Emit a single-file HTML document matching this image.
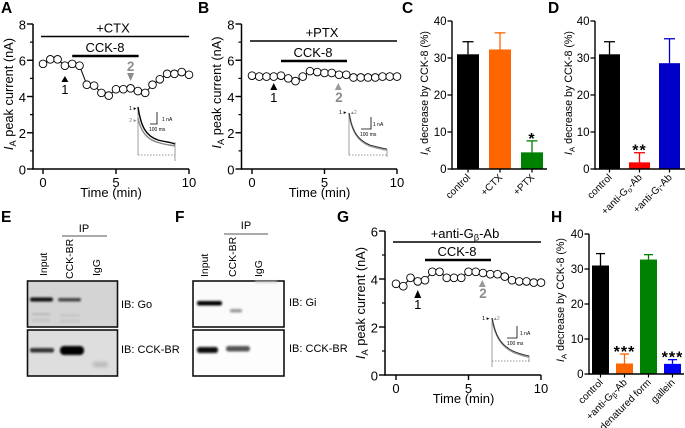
<!DOCTYPE html>
<html>
<head>
<meta charset="utf-8">
<style>
html,body{margin:0;padding:0;background:#fff;width:685px;height:428px;overflow:hidden}
svg{display:block;font-family:"Liberation Sans",sans-serif}
</style>
</head>
<body>
<svg id="fig" width="685" height="428" viewBox="0 0 685 428" xmlns="http://www.w3.org/2000/svg">
<defs>
<filter id="b1" x="-30%" y="-100%" width="160%" height="300%"><feGaussianBlur stdDeviation="1"/></filter>
<filter id="b2" x="-30%" y="-100%" width="160%" height="300%"><feGaussianBlur stdDeviation="1.8"/></filter>
</defs>
<g id="root" style="filter:blur(0.35px)"></g>
<g style="filter:blur(0.3px)">
<rect x="27.5" y="281" width="90" height="46" fill="#d4d4d4" stroke="#111" stroke-width="1.6"/>
<rect x="30" y="297.5" width="23" height="4" rx="2" fill="#111" filter="url(#b1)"/>
<rect x="58" y="298" width="23" height="3.5" rx="1.7" fill="#444" filter="url(#b1)"/>
<rect x="32" y="313" width="18" height="2.5" fill="#bbb" filter="url(#b1)"/>
<rect x="32" y="319" width="18" height="2.5" fill="#c2c2c2" filter="url(#b1)"/>
<rect x="60" y="314" width="20" height="2.5" fill="#c6c6c6" filter="url(#b1)"/>
<rect x="60" y="320" width="20" height="2.5" fill="#c4c4c4" filter="url(#b1)"/>
<rect x="27.5" y="330" width="90" height="46" fill="#dedede" stroke="#111" stroke-width="1.6"/>
<rect x="30" y="348" width="24" height="4.5" rx="2" fill="#333" filter="url(#b1)"/>
<rect x="60" y="346" width="24" height="9" rx="4" fill="#000" filter="url(#b1)"/>
<rect x="93" y="362" width="15" height="5" rx="2" fill="#b8b8b8" filter="url(#b2)"/>
<text x="84" y="232" font-size="11" text-anchor="middle">IP</text>
<line x1="62" y1="236" x2="107" y2="236" stroke="#555" stroke-width="1"/>
<text transform="translate(47,276) rotate(-90)" font-size="10.5">Input</text>
<text transform="translate(73,279) rotate(-90)" font-size="10.5">CCK-BR</text>
<text transform="translate(100,276) rotate(-90)" font-size="10.5">IgG</text>
<text x="121" y="308" font-size="11">IB: Go</text>
<text x="121" y="353" font-size="11">IB: CCK-BR</text>
</g>
<g style="filter:blur(0.3px)">
<rect x="193" y="281" width="91" height="46" fill="#fbfbfb" stroke="#111" stroke-width="1.6"/>
<rect x="197" y="301" width="25" height="4.5" rx="2" fill="#000" filter="url(#b1)"/>
<rect x="230" y="309" width="12" height="3.5" rx="1.5" fill="#999" filter="url(#b1)"/>
<rect x="255" y="281" width="22" height="2" fill="#ccc" filter="url(#b1)"/>
<rect x="193" y="330" width="91" height="46" fill="#fdfdfd" stroke="#111" stroke-width="1.6"/>
<rect x="197" y="347" width="21" height="6" rx="2.5" fill="#0a0a0a" filter="url(#b1)"/>
<rect x="226" y="346" width="24" height="5.5" rx="2.5" fill="#555" filter="url(#b1)"/>
<text x="246" y="229" font-size="11" text-anchor="middle">IP</text>
<line x1="224" y1="234" x2="268" y2="234" stroke="#555" stroke-width="1"/>
<text transform="translate(208,277) rotate(-90)" font-size="10.5">Input</text>
<text transform="translate(236,277) rotate(-90)" font-size="10.5">CCK-BR</text>
<text transform="translate(262,277) rotate(-90)" font-size="10.5">IgG</text>
<text x="289" y="306" font-size="11">IB: Gi</text>
<text x="289" y="352" font-size="11">IB: CCK-BR</text>
</g>
<g fill="none" style="filter:blur(0.25px)">
<path d="M138 155H175" stroke="#777" stroke-width=".7" stroke-dasharray="1.5 1.5"/>
<path d="M138 107V155M175 142V161" stroke="#888" stroke-width=".8"/>
<path d="M138 118C141 132 147 140 160 143C166 145 171 145 175 146" stroke="#888" stroke-width="1.4"/>
<path d="M138 107C141 127 146 136 158 140C165 142 170 142 175 144" stroke="#000" stroke-width="1.4"/>
<path d="M150 124H157V112" stroke="#000" stroke-width=".8"/>
<text x="162" y="121" font-size="5" fill="#000">1 nA</text>
<text x="149" y="131" font-size="5" fill="#000">100 ms</text>
<text x="129" y="110" font-size="5.5" fill="#000">1 ▸</text>
<text x="129" y="122" font-size="5.5" fill="#888">2 ▸</text>
</g>
<g fill="none" style="filter:blur(0.25px)">
<path d="M349 155H388" stroke="#777" stroke-width=".7" stroke-dasharray="1.5 1.5"/>
<path d="M349 113V155M387 149V157" stroke="#888" stroke-width=".8"/>
<path d="M349 113C352 132 358 141 370 146C377 148 382 149 387 150" stroke="#999" stroke-width="1.8"/>
<path d="M349 113C352 132 358 140 370 145C377 147 382 148 387 149" stroke="#222" stroke-width=".8"/>
<path d="M361 129H371V117" stroke="#000" stroke-width=".8"/>
<text x="373" y="126" font-size="5" fill="#000">1 nA</text>
<text x="360" y="136" font-size="5" fill="#000">100 ms</text>
<text x="339" y="114" font-size="5.5" fill="#000">1 ▸</text>
<text x="351" y="114" font-size="5.5" fill="#888">▴2</text>
</g>
<g fill="none" style="filter:blur(0.25px)">
<path d="M492 361H529" stroke="#777" stroke-width=".7" stroke-dasharray="1.5 1.5"/>
<path d="M492 318V367M529 355V362" stroke="#888" stroke-width=".8"/>
<path d="M492 318C495 336 501 346 513 352C520 355 525 356 529 357" stroke="#999" stroke-width="1.8"/>
<path d="M492 318C495 336 501 345 513 351C520 354 525 355 529 356" stroke="#222" stroke-width=".8"/>
<path d="M507 338H517V326" stroke="#000" stroke-width=".8"/>
<text x="520" y="335" font-size="5" fill="#000">1 nA</text>
<text x="507" y="345" font-size="5" fill="#000">100 ms</text>
<text x="482" y="320" font-size="5.5" fill="#000">1 ▸</text>
<text x="494" y="320" font-size="5.5" fill="#888">▴2</text>
</g>
</svg>
<script>
// ---- chart data ----
var timeTicks = [0, 5, 10];
var timePoints = [0,0.5,1,1.5,2,2.5,3,3.5,4,4.5,5,5.5,6,6.5,7,7.5,8,8.5,9,9.5,10];
var seriesA = [5.8,6.05,6.05,5.7,5.8,5.7,4.65,4.6,4.2,4.05,4.4,4.4,4.45,4.3,4.2,4.65,4.95,5.25,5.25,5.35,5.2];
var seriesB = [5.15,5.1,5.1,5.1,5.15,5.0,4.85,5.1,5.4,5.35,5.3,5.3,5.2,5.2,5.05,5.05,5.05,5.05,5.1,5.1,5.1];
var seriesG = [3.8,3.7,4.05,3.9,3.95,4.3,4.3,4.05,4.05,4.05,4.3,4.3,4.25,4.2,4.2,4.1,3.95,3.9,3.9,3.85,3.85];
var currentTicksAB = [0,2,4,6,8];
var currentMinorAB = [1,3,5,7];
var currentTicksG = [0,2,4,6];
var currentMinorG = [1,3,5];
var percentTicks = [0,10,20,30,40];
var categoriesC = ['control','+CTX','+PTX'];
var valuesC = [31,32.3,4.5];
var errorsC = [34.4,36.8,7.6];
var categoriesD = ['control','+anti-G|o|-Ab','+anti-G|i|-Ab'];
var valuesD = [31,1.8,28.6];
var errorsD = [34.4,4.4,35.2];
var categoriesH = ['control','+anti-G|β|-Ab','+denatured form','gallein'];
var valuesH = [31,3,32.7,2.9];
var errorsH = [34.4,5.7,34.1,4.1];

var root = document.getElementById('root');
var NS = 'http://www.w3.org/2000/svg';
function mk(tag, attrs, name, parent) {
  var el = document.createElementNS(NS, tag);
  for (var k in attrs) el.setAttribute(k, attrs[k]);
  
  
  (parent || root).appendChild(el);
  return el;
}
function txt(str, x, y, size, anchor, name, fill, weight, parent) {
  var t = mk('text', {x:x, y:y, 'font-size':size, 'text-anchor':anchor||'start', fill:fill||'#000', 'font-weight':weight||'normal'}, name, parent);
  t.textContent = str;
  return t;
}
function line(x1,y1,x2,y2,w,name,color,parent) {
  return mk('line',{x1:x1,y1:y1,x2:x2,y2:y2,stroke:color||'#000','stroke-width':w},name,parent);
}
function span(t, str, opts, name) {
  var s = document.createElementNS(NS,'tspan');
  s.textContent = str;
  for (var k in opts) s.setAttribute(k, opts[k]);
  
  
  t.appendChild(s);
}
function subText(t, label, size) {
  var parts = label.split('|');
  span(t,parts[0],{},'label-text');
  if (parts.length>1) {
    span(t,parts[1],{'font-size':size*0.72,dy:size*0.2},'label-subscript');
    span(t,parts[2],{dy:-size*0.2},'label-suffix');
  }
}
function yTitle(x, cy, size, rest, name, parent) {
  var t = mk('text',{transform:'translate('+x+','+cy+') rotate(-90)','font-size':size,'text-anchor':'middle'},name,parent);
  span(t,'I',{'font-style':'italic'},'y-title-i');
  span(t,'A',{'font-size':size*0.72,dy:size*0.22},'y-title-subscript');
  span(t,rest,{dy:-size*0.22},'y-title-rest');
}
function arrow(x, tipY, baseY, color, name, parent) {
  var d = 'M'+(x-3.5)+' '+baseY+'L'+x+' '+tipY+'L'+(x+3.5)+' '+baseY+'Z';
  mk('path',{d:d,fill:color},name,parent);
}

function timeCourse(c) {
  var g = mk('g',{},c.id+'-time-course');
  var sx = function(v){ return c.x0 + v*(c.x10-c.x0)/10; };
  var sy = function(v){ return c.y0 - v*(c.y0-c.yTop)/c.yMax; };
  line(c.ax,c.yTop,c.ax,c.y0+0.7,1.5,'y-axis-line','#000',g);
  line(c.ax,c.y0,c.x10,c.y0,1.5,'x-axis-line','#000',g);
  c.yTicks.forEach(function(v){
    line(c.ax-6,sy(v),c.ax,sy(v),1.4,'y-tick','#000',g);
    txt(String(v),c.ax-7,sy(v)+5.3,13,'end','y-tick-label','#000','normal',g);
  });
  (c.yMinor||[]).forEach(function(v){
    line(c.ax-3,sy(v),c.ax,sy(v),1.2,'y-minor-tick','#000',g);
  });
  timeTicks.forEach(function(v){
    line(sx(v),c.y0,sx(v),c.y0+5,1.4,'x-tick','#000',g);
    txt(String(v),sx(v),c.y0+18,13,'middle','x-tick-label','#000','normal',g);
  });
  txt('Time (min)',sx(5)-c.tShift,c.y0+28,13,'middle','x-axis-title','#000','normal',g);
  yTitle(c.titleX,c.titleCy,c.titleSize,' peak current (nA)','y-axis-title',g);
  // condition bars
  line(c.b1.x,c.b1.y,c.x10,c.b1.y,1.5,'treatment-bar','#000',g);
  var tl = mk('text',{x:c.b1.tx,y:c.b1.y-4,'font-size':13,'text-anchor':'middle'},'treatment-label',g);
  subText(tl,c.b1.t,13);
  line(sx(2),c.b2.y,sx(6.55),c.b2.y,2.6,'cck-8-bar','#000',g);
  txt('CCK-8',c.b2.tx,c.b2.y-4,13,'middle','cck-8-label','#000','normal',g);
  // series
  var pts = timePoints.map(function(t,i){ return sx(t)+','+sy(c.data[i]); }).join(' ');
  mk('polyline',{points:pts,fill:'none',stroke:'#000','stroke-width':1},'series-line',g);
  timePoints.forEach(function(t,i){
    mk('circle',{cx:sx(t),cy:sy(c.data[i]),r:3.85,fill:'#fff',stroke:'#000','stroke-width':0.9},'series-point',g);
  });
  // arrows
  arrow(sx(1.5),c.a1[0],c.a1[1],'#000','arrow-1',g);
  txt('1',sx(1.5),c.a1[2],13,'middle','arrow-1-label','#000','normal',g);
  if (c.a2[3]) {
    mk('path',{d:'M'+(sx(6)-3.5)+' '+c.a2[0]+'L'+sx(6)+' '+c.a2[1]+'L'+(sx(6)+3.5)+' '+c.a2[0]+'Z',fill:'#8c8c8c'},'arrow-2',g);
  } else {
    arrow(sx(5.95),c.a2[0],c.a2[1],'#999','arrow-2',g);
  }
  txt('2',sx(6),c.a2[2],13.5,'middle','arrow-2-label','#8c8c8c','bold',g);
}

timeCourse({id:'panel-a',ax:33,x0:43,x10:189,y0:169,yTop:24,yMax:8,yTicks:currentTicksAB,yMinor:currentMinorAB,data:seriesA,
  titleX:13,titleCy:94,titleSize:12.8,tShift:5,
  b1:{x:41,y:36.5,t:'+CTX',tx:113},b2:{y:56,tx:105},a1:[76,82,94],a2:[73,81,71,true]});
timeCourse({id:'panel-b',ax:241.5,x0:252,x10:397,y0:169,yTop:24,yMax:8,yTicks:currentTicksAB,yMinor:currentMinorAB,data:seriesB,
  titleX:221,titleCy:92.5,titleSize:12.8,tShift:5,
  b1:{x:250,y:41,t:'+PTX',tx:322},b2:{y:61,tx:313},a1:[83,90,102],a2:[83,90,102,false]});
timeCourse({id:'panel-g',ax:385,x0:396,x10:541,y0:375,yTop:231,yMax:6,yTicks:currentTicksG,yMinor:currentMinorG,data:seriesG,
  titleX:365,titleCy:303,titleSize:12.8,tShift:5,
  b1:{x:393,y:242,t:'+anti-G|β|-Ab',tx:465},b2:{y:260,tx:457},a1:[290,298,309],a2:[280,287,298,false]});

function barChart(c) {
  var g = mk('g',{},c.id+'-bar-chart');
  var sy = function(v){ return c.y0 - v*(c.y0-c.yTop)/40; };
  var sx = function(i){ return c.first + i*c.step; };
  c.values.forEach(function(v,i){
    var col = c.colors[i];
    line(sx(i),sy(c.errors[i]),sx(i),sy(v),1.3,'error-bar',col,g);
    line(sx(i)-c.cap,sy(c.errors[i]),sx(i)+c.cap,sy(c.errors[i]),1.3,'error-cap',col,g);
    mk('rect',{x:sx(i)-c.w/2,y:sy(v),width:c.w,height:c.y0-sy(v),fill:col},'bar-'+i,g);
    line(sx(i),c.y0,sx(i),c.y0+3.5,1.2,'x-tick','#000',g);
    var t = mk('text',{transform:'translate('+(sx(i)+3)+','+(c.y0+9)+') rotate(-45)','font-size':10,'text-anchor':'end'},'category-label',g);
    subText(t,c.cats[i],10);
  });
  line(c.ax,c.yTop,c.ax,c.y0+0.7,1.4,'y-axis-line','#000',g);
  line(c.ax,c.y0,c.axEnd,c.y0,1.4,'x-axis-line','#000',g);
  percentTicks.forEach(function(v){
    line(c.ax-4.5,sy(v),c.ax,sy(v),1.3,'y-tick','#000',g);
    txt(String(v),c.ax-5.5,sy(v)+4.2,11.5,'end','y-tick-label','#000','normal',g);
  });
  yTitle(c.titleX,c.titleCy,10.7,' decrease by CCK-8 (%)','y-axis-title',g);
  c.sig.forEach(function(s){
    var st = txt(s[1],sx(s[0]),sy(c.errors[s[0]])+s[2],16,'middle','significance-marker','#000','bold',g);
    st.setAttribute('letter-spacing','1');
  });
}
barChart({id:'panel-c',ax:452,axEnd:547,y0:169,yTop:21,first:468,step:32,w:22,cap:5.5,values:valuesC,errors:errorsC,cats:categoriesC,
  colors:['#000','#ff6600','#008000'],titleX:428,titleCy:93,sig:[[2,'*',3]]});
barChart({id:'panel-d',ax:595,axEnd:685,y0:169,yTop:21,first:609.5,step:30,w:21,cap:5.5,values:valuesD,errors:errorsD,cats:categoriesD,
  colors:['#000','#ff0000','#0000c8'],titleX:572,titleCy:93,sig:[[1,'**',3]]});
barChart({id:'panel-h',ax:589,axEnd:684,y0:374,yTop:234,first:600.5,step:24,w:17,cap:4.5,values:valuesH,errors:errorsH,cats:categoriesH,
  colors:['#000','#ff6600','#008000','#0000ff'],titleX:564,titleCy:300,sig:[[1,'***',3],[3,'***',3]]});

var letters = [['A',1,13],['B',198,13],['C',402,13],['D',548,13],['E',1,222],['F',175,222],['G',337,222],['H',551,222]];
letters.forEach(function(l){
  txt(l[0],l[1],l[2],15.5,'start','panel-letter-'+l[0].toLowerCase(),'#000','bold');
});
</script>
</body>
</html>
